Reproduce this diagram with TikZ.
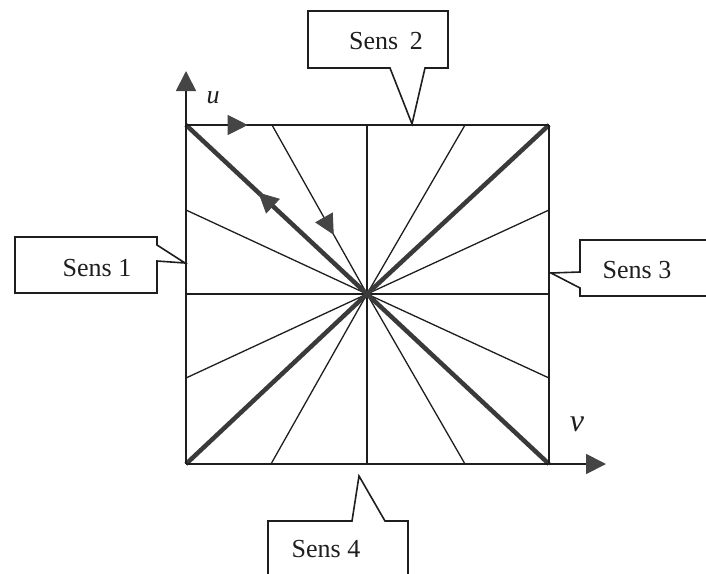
\documentclass[tikz,border=0pt]{standalone}
\usepackage{fontspec}
\setmainfont{Liberation Serif}
\usetikzlibrary{arrows.meta,decorations.markings}
\definecolor{ink}{HTML}{1E1E1E}
\definecolor{tipgray}{HTML}{454545}
\definecolor{diag}{HTML}{3A3A3A}
\tikzset{
  edgeline/.style={draw=ink,line width=1.8pt},
  thinline/.style={draw=ink,line width=1.3pt},
  thickline/.style={draw=diag,line width=4.5pt},
  bigtip/.tip={Triangle[length=20pt,width=20pt,fill=tipgray,color=tipgray]},
  axisline/.style={draw=ink,line width=1.8pt,-bigtip},
  midarrow/.style={postaction={decorate},decoration={markings,
     mark=at position #1 with {\arrow[line width=1pt]{Triangle[length=20pt,width=20pt,fill=tipgray,color=tipgray]}}}},
  callout/.style={draw=ink,line width=1.6pt,line join=miter},
  lbl/.style={font=\fontsize{26}{30}\selectfont,text=ink,inner sep=0pt},
  axlbl/.style={text=ink,inner sep=0pt}
}
\begin{document}
\begin{tikzpicture}[x=1pt,y=-1pt]
\useasboundingbox (0,0) rectangle (706,573);
\clip (0,0) rectangle (706,573);
% key points
\coordinate (TL) at (186,125);
\coordinate (TR) at (549,125);
\coordinate (BL) at (186,464);
\coordinate (BR) at (549,464);
\coordinate (C)  at (367,294);
\coordinate (T)  at (367,125);
\coordinate (B)  at (367,464);
\coordinate (L)  at (186,294);
\coordinate (R)  at (549,294);
\coordinate (t1) at (272,125);
\coordinate (t2) at (465,125);
\coordinate (b1) at (271,464);
\coordinate (b2) at (465,464);
\coordinate (l1) at (186,210);
\coordinate (l2) at (186,378);
\coordinate (r1) at (549,210);
\coordinate (r2) at (549,378);
\coordinate (uend) at (186,71);
\coordinate (vend) at (606,464);
% thin lines
\draw[thinline] (T) -- (B);
\draw[thinline] (L) -- (R);
\foreach \p in {t2,b1,b2,l1,l2,r1,r2} \draw[thinline] (C) -- (\p);
\draw[thinline,midarrow=0.65] (t1) -- (C);
% thick diagonals
\draw[thickline] (C) -- (TR);
\draw[thickline] (C) -- (BL);
\draw[thickline] (C) -- (BR);
\draw[thickline,midarrow=0.6] (C) -- (TL);
% square
\draw[edgeline,midarrow=0.17] (TL) -- (TR);
\draw[edgeline] (TR) -- (BR);
% axes
\draw[axisline] (BL) -- (uend);
\draw[axisline] (BL) -- (vend);
\node[axlbl,font=\itshape\fontsize{26}{30}\selectfont] (ulab) at (213,98) {u};
\node[axlbl,font=\itshape\fontsize{32}{36}\selectfont] (vlab) at (577,424) {v};
% callouts
\draw[callout] (308,11) -- (448,11) -- (448,68) -- (425,68) -- (412,124) -- (390,68) -- (308,68) -- cycle;
\node[lbl] (s2) at (386,41) {Sens\hspace{0.45em}2};
\draw[callout] (15,237) -- (157,237) -- (157,245) -- (185,263) -- (157,261) -- (157,293) -- (15,293) -- cycle;
\node[lbl] (s1) at (97,268) {Sens 1};
\draw[callout] (720,240) -- (580,240) -- (580,272) -- (551,273) -- (580,288) -- (580,296) -- (720,296);
\node[lbl] (s3) at (637,270) {Sens 3};
\draw[callout] (268,590) -- (268,521) -- (352,521) -- (359,476) -- (385,521) -- (408,521) -- (408,590);
\node[lbl] (s4) at (326,549) {Sens 4};
\end{tikzpicture}
\end{document}
